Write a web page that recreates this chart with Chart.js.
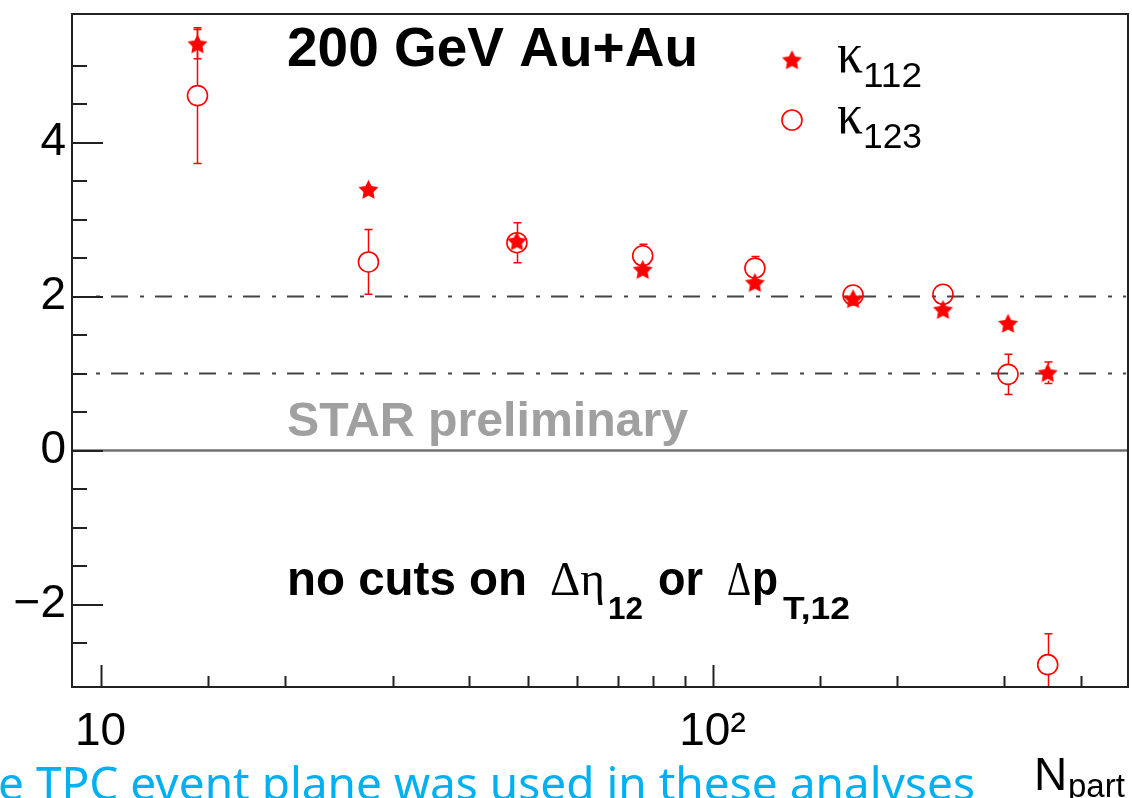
<!DOCTYPE html>
<html>
<head>
<meta charset="utf-8">
<script src="https://cdn.jsdelivr.net/npm/chart.js@4.4.1/dist/chart.umd.min.js"></script>
<style>
  html, body { margin: 0; padding: 0; background: #fff; overflow: hidden; }
  #wrap { width: 1132px; height: 798px; position: relative; }
</style>
</head>
<body>
<div id="wrap"><canvas id="c" width="1132" height="798"></canvas></div>
<script>
// Number of participants per centrality bin
const npart = [14.4, 27.4, 47.9, 76.9, 117.3, 169.7, 238, 304, 353];

// kappa_112 with statistical errors
const kappa112    = [5.28, 3.39, 2.72, 2.35, 2.18, 1.97, 1.83, 1.65, 1.01];
const kappa112Err = [0.19, 0.06, 0.10, 0.06, 0.06, 0.05, 0.06, 0.05, 0.14];

// kappa_123 with statistical errors
const kappa123    = [4.61, 2.45, 2.70, 2.53, 2.37, 2.02, 2.03, 0.99, -2.78];
const kappa123Err = [0.88, 0.42, 0.26, 0.15, 0.15, 0.06, 0.12, 0.26, 0.40];

// Dash-dotted reference levels and their horizontal extent
const refLevels = [2, 1];
const refLineX  = [9.83, 474];

// Axis ranges and labelled ticks
const xRange = [8.98, 477.5];
const yRange = [-3.07, 5.67];
const xTickLabels = [[10, '10'], [100, '10²']];
const yTickLabels = [[-2, '−2'], [0, '0'], [2, '2'], [4, '4']];

const RED = '#ff0000';
const SANS = '"Liberation Sans", Arial, Helvetica, sans-serif';
const SERIF = '"Liberation Serif", "DejaVu Serif", serif';

// Filled five-pointed star used as the kappa_112 marker
function makeStar(r, color) {
  const s = Math.ceil(r * 2 + 4);
  const cv = document.createElement('canvas');
  cv.width = s; cv.height = s;
  const g = cv.getContext('2d');
  g.translate(s / 2, s / 2 + 0.8);
  g.beginPath();
  for (let i = 0; i < 10; i++) {
    const rr = i % 2 ? r * 0.5 : r;
    const a = -Math.PI / 2 + i * Math.PI / 5;
    g.lineTo(rr * Math.cos(a), rr * Math.sin(a));
  }
  g.closePath();
  g.fillStyle = color;
  g.fill();
  return cv;
}
const starImg = makeStar(10.5, RED);
const CIRCLE_R = 10;

function pts(xs, ys) { return xs.map((x, i) => ({ x: x, y: ys[i] })); }

// Text squeezed or stretched horizontally to span a given width
function fitText(ctx, txt, x, y, font, width, color) {
  ctx.save();
  ctx.font = font;
  const w = ctx.measureText(txt).width;
  ctx.translate(x, y);
  ctx.scale(width / w, 1);
  ctx.fillStyle = color;
  ctx.textBaseline = 'alphabetic';
  ctx.textAlign = 'left';
  ctx.fillText(txt, 0, 0);
  ctx.restore();
}
function plainText(ctx, txt, x, y, font, color) {
  ctx.save();
  ctx.font = font;
  ctx.fillStyle = color;
  ctx.textBaseline = 'alphabetic';
  ctx.textAlign = 'left';
  ctx.fillText(txt, x, y);
  ctx.restore();
}

// Error bars drawn outward from the marker edge, with small caps
const errorBars = {
  id: 'errorBars',
  beforeDatasetsDraw(chart) {
    const { ctx, chartArea: a, scales: { x, y } } = chart;
    ctx.save();
    ctx.beginPath();
    ctx.rect(a.left, a.top, a.right - a.left, a.bottom - a.top);
    ctx.clip();
    ctx.strokeStyle = RED;
    ctx.lineWidth = 1.5;
    const series = [[kappa123, kappa123Err, CIRCLE_R], [kappa112, kappa112Err, 8]];
    series.forEach(([vals, errs, gap]) => {
      vals.forEach((v, i) => {
        const px = Math.round(x.getPixelForValue(npart[i])) + 0.5;
        const py = y.getPixelForValue(v);
        const yt = y.getPixelForValue(v + errs[i]);
        const yb = y.getPixelForValue(v - errs[i]);
        ctx.beginPath();
        if (py - yt > gap) {
          ctx.moveTo(px, py - gap); ctx.lineTo(px, yt);
          ctx.moveTo(px - 4, yt); ctx.lineTo(px + 4, yt);
        }
        if (yb - py > gap) {
          ctx.moveTo(px, py + gap); ctx.lineTo(px, yb);
          ctx.moveTo(px - 4, yb); ctx.lineTo(px + 4, yb);
        }
        ctx.stroke();
      });
    });
    ctx.restore();
  }
};

// Zero line, frame, inward tick marks, legend and text annotations
const frameAndText = {
  id: 'frameAndText',
  beforeDatasetsDraw(chart) {
    const { ctx, chartArea: a, scales: { y } } = chart;
    const y0 = y.getPixelForValue(0);
    ctx.save();
    ctx.strokeStyle = '#707070';
    ctx.lineWidth = 2.5;
    ctx.beginPath();
    ctx.moveTo(a.left, y0); ctx.lineTo(a.right, y0);
    ctx.stroke();
    ctx.restore();
  },
  afterDatasetsDraw(chart) {
    const { ctx, chartArea: a, scales: { x, y } } = chart;
    ctx.save();
    ctx.strokeStyle = '#222';
    ctx.lineWidth = 2;
    ctx.strokeRect(a.left, a.top, a.right - a.left, a.bottom - a.top);

    // y ticks: every 0.5, long ones on labelled values
    ctx.beginPath();
    y.ticks.forEach(t => {
      const v = t.value;
      if (Math.abs(v * 2 - Math.round(v * 2)) > 1e-6) return;
      const major = Math.abs(v / 2 - Math.round(v / 2)) < 1e-6;
      const py = Math.round(y.getPixelForValue(v));
      ctx.moveTo(a.left, py);
      ctx.lineTo(a.left + (major ? 31 : 15), py);
    });
    // x ticks: decades long, the rest short
    x.ticks.forEach(t => {
      const v = t.value;
      if (v <= x.min * 1.01 || v >= x.max * 0.99) return;
      const lg = Math.log10(v);
      const major = Math.abs(lg - Math.round(lg)) < 1e-6;
      const px = Math.round(x.getPixelForValue(v)) + 0.5;
      ctx.moveTo(px, a.bottom);
      ctx.lineTo(px, a.bottom - (major ? 22 : 11));
    });
    ctx.stroke();
    ctx.restore();

    // Legend
    ctx.drawImage(starImg, 792 - starImg.width / 2, 60 - starImg.height / 2);
    ctx.save();
    ctx.strokeStyle = RED;
    ctx.lineWidth = 1.6;
    ctx.beginPath();
    ctx.arc(792, 120, CIRCLE_R, 0, Math.PI * 2);
    ctx.stroke();
    ctx.restore();
    fitText(ctx, 'κ', 837, 72, '56px ' + SERIF, 26, '#000');
    fitText(ctx, '112', 863, 87, '35px ' + SANS, 59, '#000');
    fitText(ctx, 'κ', 837, 133, '56px ' + SERIF, 26, '#000');
    fitText(ctx, '123', 863, 148, '35px ' + SANS, 59, '#000');

    // Annotations
    fitText(ctx, '200 GeV Au+Au', 287, 66, 'bold 56px ' + SANS, 411, '#000');
    fitText(ctx, 'STAR preliminary', 287, 436, 'bold 48px ' + SANS, 401, '#a0a0a0');
    fitText(ctx, 'no cuts on', 287, 595, 'bold 48px ' + SANS, 240, '#000');
    fitText(ctx, 'Δη', 550, 595, '48px ' + SERIF, 55, '#000');
    fitText(ctx, '12', 608, 619, 'bold 32px ' + SANS, 35, '#000');
    fitText(ctx, 'or', 658, 595, 'bold 48px ' + SANS, 45, '#000');
    fitText(ctx, 'Δ', 727, 595, '48px ' + SERIF, 24, '#000');
    fitText(ctx, 'p', 752, 595, 'bold 48px ' + SANS, 26, '#000');
    fitText(ctx, 'T,12', 783, 619, 'bold 32px ' + SANS, 67, '#000');

    // Axis title
    plainText(ctx, 'N', 1034, 790, '46px ' + SANS, '#000');
    plainText(ctx, 'part', 1068, 797, '33px ' + SANS, '#000');

    // Caption under the plot
    fitText(ctx, 'e TPC event plane was used in these analyses', -2, 800, '46px "Noto Sans", "Open Sans", sans-serif', 977, '#00b0f0');
  }
};

const refDatasets = refLevels.map((lv, k) => ({
  type: 'line',
  data: refLineX.map(xv => ({ x: xv, y: lv })),
  borderColor: '#444',
  borderWidth: 2,
  borderDash: [17, 12, 4, 11],
  borderDashOffset: 29,
  pointRadius: 0,
  fill: false,
  order: 5 + k
}));

new Chart(document.getElementById('c'), {
  type: 'scatter',
  data: {
    datasets: [
      {
        label: 'κ112',
        data: pts(npart, kappa112),
        pointStyle: starImg,
        pointRadius: 10,
        order: 0
      },
      {
        label: 'κ123',
        data: pts(npart, kappa123),
        pointStyle: 'circle',
        pointRadius: CIRCLE_R,
        borderColor: RED,
        borderWidth: 1.6,
        backgroundColor: 'rgba(255,255,255,0)',
        order: 1
      },
      ...refDatasets
    ]
  },
  options: {
    responsive: false,
    animation: false,
    devicePixelRatio: 1,
    layout: { autoPadding: false, padding: { top: 14, right: 4, left: 0, bottom: 0 } },
    plugins: { legend: { display: false }, tooltip: { enabled: false } },
    scales: {
      x: {
        type: 'logarithmic',
        min: xRange[0],
        max: xRange[1],
        border: { display: false },
        grid: { display: false, drawTicks: false },
        ticks: {
          autoSkip: false,
          maxRotation: 0,
          padding: 18,
          color: '#000',
          font: { family: SANS, size: 46 },
          callback: (v) => {
            const hit = xTickLabels.find(([t]) => Math.abs(v - t) < 1e-6);
            return hit ? hit[1] : '';
          }
        },
        afterFit(s) { s.height = 111; s.paddingLeft = 0; s.paddingRight = 0; }
      },
      y: {
        min: yRange[0],
        max: yRange[1],
        border: { display: false },
        grid: { display: false, drawTicks: false },
        ticks: {
          stepSize: 0.5,
          autoSkip: false,
          padding: 6,
          color: '#000',
          font: { family: SANS, size: 46 },
          callback: (v) => {
            const hit = yTickLabels.find(([t]) => Math.abs(v - t) < 1e-6);
            return hit ? hit[1] : '';
          }
        },
        afterFit(s) { s.width = 72; s.paddingTop = 0; s.paddingBottom = 0; }
      }
    }
  },
  plugins: [errorBars, frameAndText]
});
</script>
</body>
</html>
